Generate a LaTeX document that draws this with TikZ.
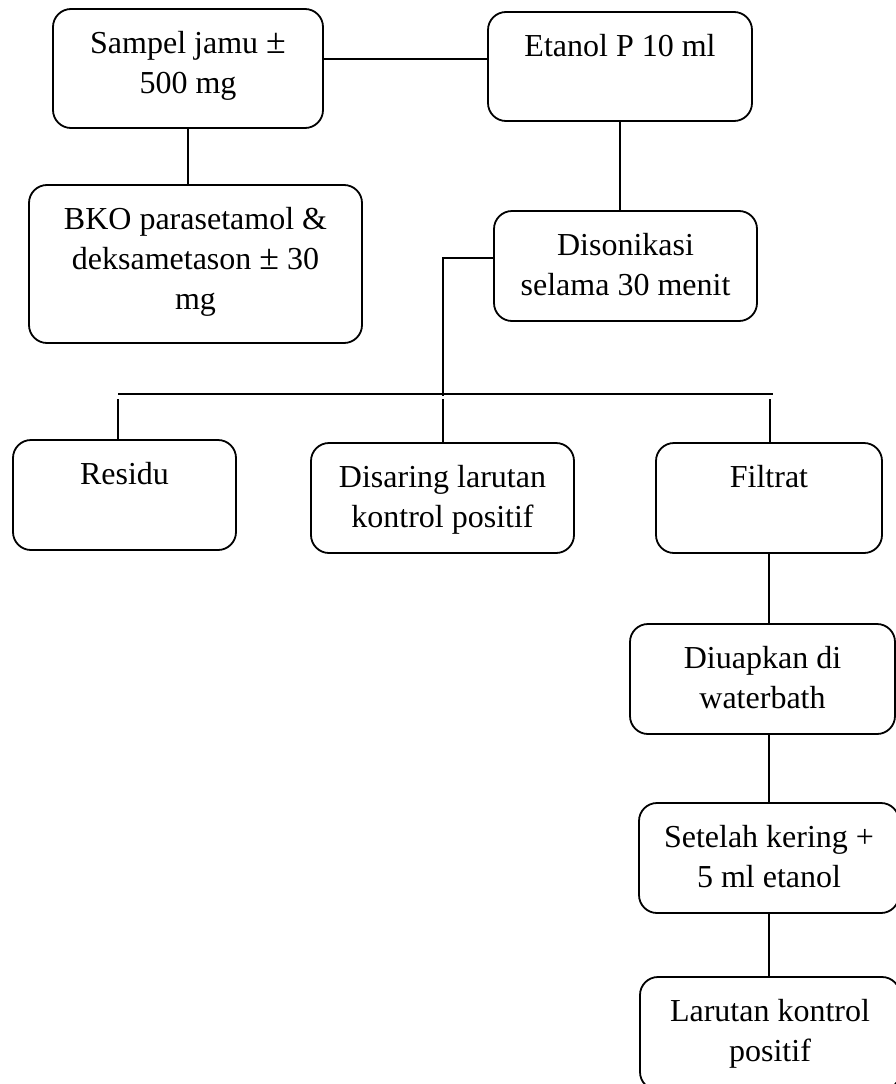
\documentclass[tikz,border=0pt]{standalone}
\usepackage{fontspec}
\setmainfont{Liberation Serif}
\newcommand\mystrut{\rule{0pt}{25pt}}
\newcommand\bigpm{\scalebox{1.12}{±}}
\tikzset{
  box/.style={draw, line width=1.8pt, rounded corners=18pt, inner sep=0pt},
  txt/.style={anchor=north, inner sep=0pt, align=center, yshift=-20pt,
    font=\fontsize{32}{40}\selectfont},
  conn/.style={line width=1.6pt}
}
\begin{document}
\begin{tikzpicture}[x=1pt,y=-1pt]
\useasboundingbox (0,0) rectangle (896,1084);
\clip (0,0) rectangle (896,1084);
% boxes
\node[box, minimum width=270pt, minimum height=119pt] (S) at (188,68.5) {};
\node[box, minimum width=264pt, minimum height=109pt] (E) at (620,66.5) {};
\node[box, minimum width=333pt, minimum height=158pt] (B) at (195.5,264) {};
\node[box, minimum width=263pt, minimum height=110pt] (D) at (625.5,266) {};
\node[box, minimum width=223pt, minimum height=110pt] (R) at (124.5,495) {};
\node[box, minimum width=263pt, minimum height=110pt] (Ds) at (442.5,498) {};
\node[box, minimum width=226pt, minimum height=110pt] (F) at (769,498) {};
\node[box, minimum width=265pt, minimum height=110pt] (U) at (762.5,679) {};
\node[box, minimum width=260pt, minimum height=110pt] (K) at (769,858) {};
\node[box, minimum width=260pt, minimum height=113pt] (L) at (770,1033.5) {};
% texts
\node[txt] (tS) at (S.north) {\mystrut Sampel jamu \bigpm\\500 mg};
\node[txt] (tE) at (E.north) {\mystrut Etanol P 10 ml};
\node[txt] (tB) at (B.north) {\mystrut BKO parasetamol \&\\deksametason \bigpm\ 30\\mg};
\node[txt] (tD) at (D.north) {\mystrut Disonikasi\\selama 30 menit};
\node[txt] (tR) at (R.north) {\mystrut Residu};
\node[txt] (tDs) at (Ds.north) {\mystrut Disaring larutan\\kontrol positif};
\node[txt] (tF) at (F.north) {\mystrut Filtrat};
\node[txt] (tU) at (U.north) {\mystrut Diuapkan di\\waterbath};
\node[txt] (tK) at (K.north) {\mystrut Setelah kering +\\5 ml etanol};
\node[txt] (tL) at (L.north) {\mystrut Larutan kontrol\\positif};
% helper coordinates
\coordinate (j1) at (0,59);
\coordinate (t1) at (443,258);
\coordinate (t2) at (443,396);
\coordinate (busL) at (118,394);
\coordinate (busR) at (773,394);
\coordinate (vL) at (118,399);
\coordinate (vM) at (443,399);
\coordinate (vR) at (770,399);
% connectors
\draw[conn] (S.east |- j1) -- (E.west |- j1);
\draw[conn] (S.south) -- (B.north -| S.south);
\draw[conn] (E.south) -- (D.north -| E.south);
\draw[conn] (D.west |- t1) -- (t1) -- (t2);
\draw[conn] (busL) -- (busR);
\draw[conn] (vL) -- (vL |- R.north);
\draw[conn] (vM) -- (vM |- Ds.north);
\draw[conn] (vR) -- (vR |- F.north);
\draw[conn] (F.south) -- (F.south |- U.north);
\draw[conn] (F.south |- U.south) -- (F.south |- K.north);
\draw[conn] (F.south |- K.south) -- (F.south |- L.north);
\end{tikzpicture}
\end{document}
